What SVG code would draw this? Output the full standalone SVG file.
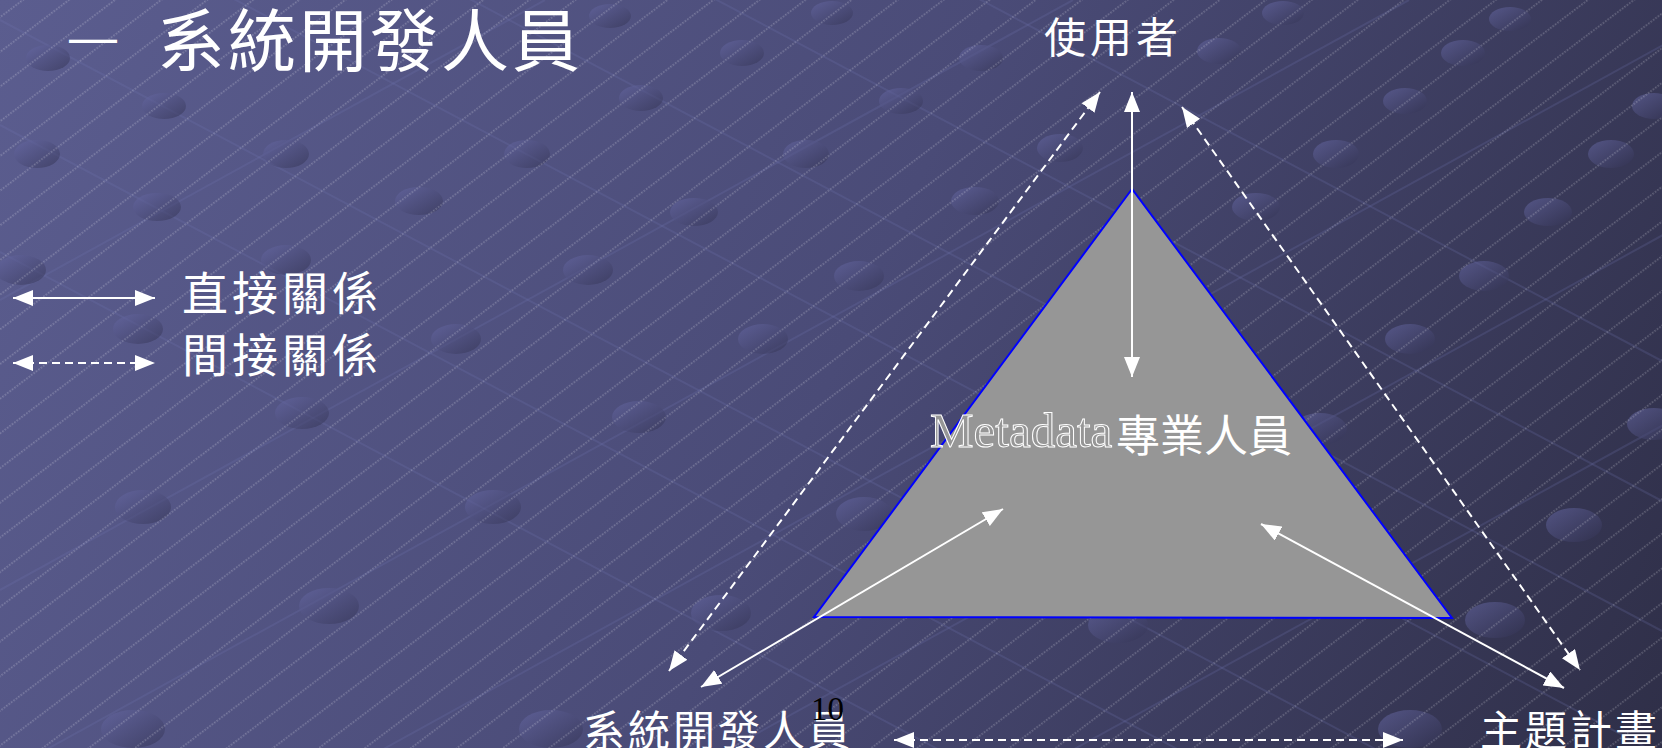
<svg xmlns="http://www.w3.org/2000/svg" width="1662" height="748" viewBox="0 0 1662 748">
<style>
.cjk{font-family:"Noto Sans CJK TC","Noto Sans CJK SC",sans-serif;fill:#ffffff}
.conn{stroke:#ffffff;stroke-width:2;fill:none}
.dash{stroke-dasharray:8 5}
.dot{fill:url(#dotg)}
</style>
<defs>
<linearGradient id="bg" x1="0" y1="0" x2="1662" y2="748" gradientUnits="userSpaceOnUse">
<stop offset="0" stop-color="#5b5d8f"/>
<stop offset="0.5" stop-color="#4a4b77"/>
<stop offset="1" stop-color="#2f2f48"/>
</linearGradient>
<linearGradient id="dotg" x1="0" y1="0" x2="1" y2="1">
<stop offset="0" stop-color="#6a6caa" stop-opacity="0.55"/>
<stop offset="1" stop-color="#30304e" stop-opacity="0.55"/>
</linearGradient>
<pattern id="hatch" width="30" height="27.7" patternUnits="userSpaceOnUse" patternTransform="rotate(-37)">
<line x1="0" y1="13.8" x2="30" y2="13.8" stroke="#ffffff" stroke-opacity="0.45" stroke-width="0.9" stroke-dasharray="1.5 1.5"/>
</pattern>
<marker id="ah" viewBox="0 0 20 16" refX="20" refY="8" markerWidth="20" markerHeight="16" markerUnits="userSpaceOnUse" orient="auto-start-reverse">
<path d="M0,0 L20,8 L0,16 z" fill="#ffffff"/>
</marker>
</defs>
<g id="background">
<rect width="1662" height="748" fill="url(#bg)"/>
<g stroke="#7476b0" stroke-opacity="0.22" stroke-width="2">
<line x1="0" y1="20" x2="1662" y2="901"/>
<line x1="0" y1="125" x2="1662" y2="1006"/>
<line x1="0" y1="252" x2="1662" y2="1133"/>
<line x1="0" y1="-125" x2="1662" y2="756"/>
<line x1="0" y1="-250" x2="1662" y2="631"/>
<line x1="0" y1="-380" x2="1662" y2="501"/>
<line x1="0" y1="-520" x2="1662" y2="361"/>
<line x1="0" y1="300" x2="545" y2="0"/>
<line x1="0" y1="590" x2="1073" y2="0"/>
<line x1="0" y1="775" x2="1409" y2="0"/>
<line x1="0" y1="960" x2="1745" y2="0"/>
<line x1="0" y1="1150" x2="2090" y2="0"/>
<line x1="0" y1="1340" x2="2436" y2="0"/>
</g>
<g class="dot">
<ellipse cx="48" cy="58" rx="22" ry="13"/>
<ellipse cx="164" cy="106" rx="22" ry="13"/>
<ellipse cx="37" cy="154" rx="23" ry="14"/>
<ellipse cx="157" cy="207" rx="24" ry="14"/>
<ellipse cx="286" cy="154" rx="23" ry="14"/>
<ellipse cx="419" cy="201" rx="24" ry="14"/>
<ellipse cx="527" cy="154" rx="23" ry="14"/>
<ellipse cx="641" cy="98" rx="22" ry="13"/>
<ellipse cx="742" cy="53" rx="22" ry="13"/>
<ellipse cx="610" cy="16" rx="21" ry="12"/>
<ellipse cx="832" cy="13" rx="21" ry="12"/>
<ellipse cx="901" cy="101" rx="22" ry="13"/>
<ellipse cx="806" cy="154" rx="23" ry="14"/>
<ellipse cx="694" cy="212" rx="24" ry="14"/>
<ellipse cx="588" cy="270" rx="25" ry="15"/>
<ellipse cx="456" cy="339" rx="25" ry="15"/>
<ellipse cx="286" cy="260" rx="25" ry="15"/>
<ellipse cx="21" cy="270" rx="25" ry="15"/>
<ellipse cx="138" cy="329" rx="25" ry="15"/>
<ellipse cx="302" cy="413" rx="27" ry="16"/>
<ellipse cx="143" cy="507" rx="28" ry="17"/>
<ellipse cx="493" cy="507" rx="28" ry="17"/>
<ellipse cx="639" cy="417" rx="27" ry="16"/>
<ellipse cx="763" cy="339" rx="25" ry="15"/>
<ellipse cx="859" cy="276" rx="25" ry="15"/>
<ellipse cx="975" cy="201" rx="24" ry="14"/>
<ellipse cx="981" cy="58" rx="22" ry="13"/>
<ellipse cx="1060" cy="148" rx="23" ry="14"/>
<ellipse cx="1219" cy="51" rx="22" ry="13"/>
<ellipse cx="1283" cy="13" rx="21" ry="12"/>
<ellipse cx="1256" cy="207" rx="24" ry="14"/>
<ellipse cx="1336" cy="154" rx="23" ry="14"/>
<ellipse cx="1405" cy="101" rx="22" ry="13"/>
<ellipse cx="1463" cy="53" rx="22" ry="13"/>
<ellipse cx="1510" cy="19" rx="21" ry="12"/>
<ellipse cx="1654" cy="106" rx="22" ry="13"/>
<ellipse cx="1548" cy="212" rx="24" ry="14"/>
<ellipse cx="1611" cy="154" rx="23" ry="14"/>
<ellipse cx="1484" cy="276" rx="25" ry="15"/>
<ellipse cx="1410" cy="339" rx="25" ry="15"/>
<ellipse cx="1320" cy="429" rx="27" ry="16"/>
<ellipse cx="1654" cy="424" rx="27" ry="16"/>
<ellipse cx="1574" cy="525" rx="28" ry="17"/>
<ellipse cx="1495" cy="620" rx="30" ry="18"/>
<ellipse cx="1118" cy="625" rx="30" ry="18"/>
<ellipse cx="864" cy="514" rx="28" ry="17"/>
<ellipse cx="721" cy="613" rx="30" ry="18"/>
<ellipse cx="329" cy="606" rx="30" ry="18"/>
<ellipse cx="133" cy="729" rx="32" ry="19"/>
<ellipse cx="551" cy="729" rx="32" ry="19"/>
<ellipse cx="1410" cy="729" rx="32" ry="19"/>
</g>
<rect width="1662" height="748" fill="url(#hatch)"/>
</g>
<g id="title">
<text x="69" y="54" font-family="Liberation Sans, sans-serif" font-size="48" fill="#ffffff">—</text>
<text class="cjk" x="157" y="66" font-size="68" letter-spacing="3">系統開發人員</text>
</g>
<g id="legend">
<line class="conn" x1="13" y1="298" x2="155" y2="298" marker-start="url(#ah)" marker-end="url(#ah)"/>
<line class="conn dash" x1="13" y1="363" x2="155" y2="363" marker-start="url(#ah)" marker-end="url(#ah)"/>
<text class="cjk" x="182" y="310" font-size="46" letter-spacing="4">直接關係</text>
<text class="cjk" x="182" y="372" font-size="46" letter-spacing="4">間接關係</text>
</g>
<g id="node-metadata">
<polygon points="1132,189 814,617 1452,618" fill="#969696" stroke="#0000ff" stroke-width="2"/>
<text x="930" y="447" font-family="Liberation Serif, serif" font-size="49" fill="#969696" stroke="#ffffff" stroke-width="1">Metadata</text>
<text class="cjk" x="1116" y="452" font-size="44">專業人員</text>
</g>
<g id="node-user">
<text class="cjk" x="1044" y="53" font-size="42" letter-spacing="4">使用者</text>
</g>
<g id="node-developer">
<text class="cjk" x="583" y="746" font-size="42" letter-spacing="3">系統開發人員</text>
</g>
<g id="node-project">
<text class="cjk" x="1480" y="746" font-size="42" letter-spacing="3">主題計畫</text>
</g>
<g id="page-number">
<text x="811" y="720" font-family="Liberation Serif, serif" font-size="33" fill="#000000">10</text>
</g>
<g id="connectors">
<line class="conn" x1="1132" y1="92" x2="1132" y2="377" marker-start="url(#ah)" marker-end="url(#ah)"/>
<line class="conn dash" x1="1100" y1="92" x2="669" y2="671" marker-start="url(#ah)" marker-end="url(#ah)"/>
<line class="conn dash" x1="1182" y1="107" x2="1580" y2="670" marker-start="url(#ah)" marker-end="url(#ah)"/>
<line class="conn dash" x1="894" y1="740" x2="1403" y2="740" marker-start="url(#ah)" marker-end="url(#ah)"/>
<line class="conn" x1="701" y1="687" x2="1003" y2="509" marker-start="url(#ah)" marker-end="url(#ah)"/>
<line class="conn" x1="1564" y1="688" x2="1261" y2="524" marker-start="url(#ah)" marker-end="url(#ah)"/>
</g>
</svg>
